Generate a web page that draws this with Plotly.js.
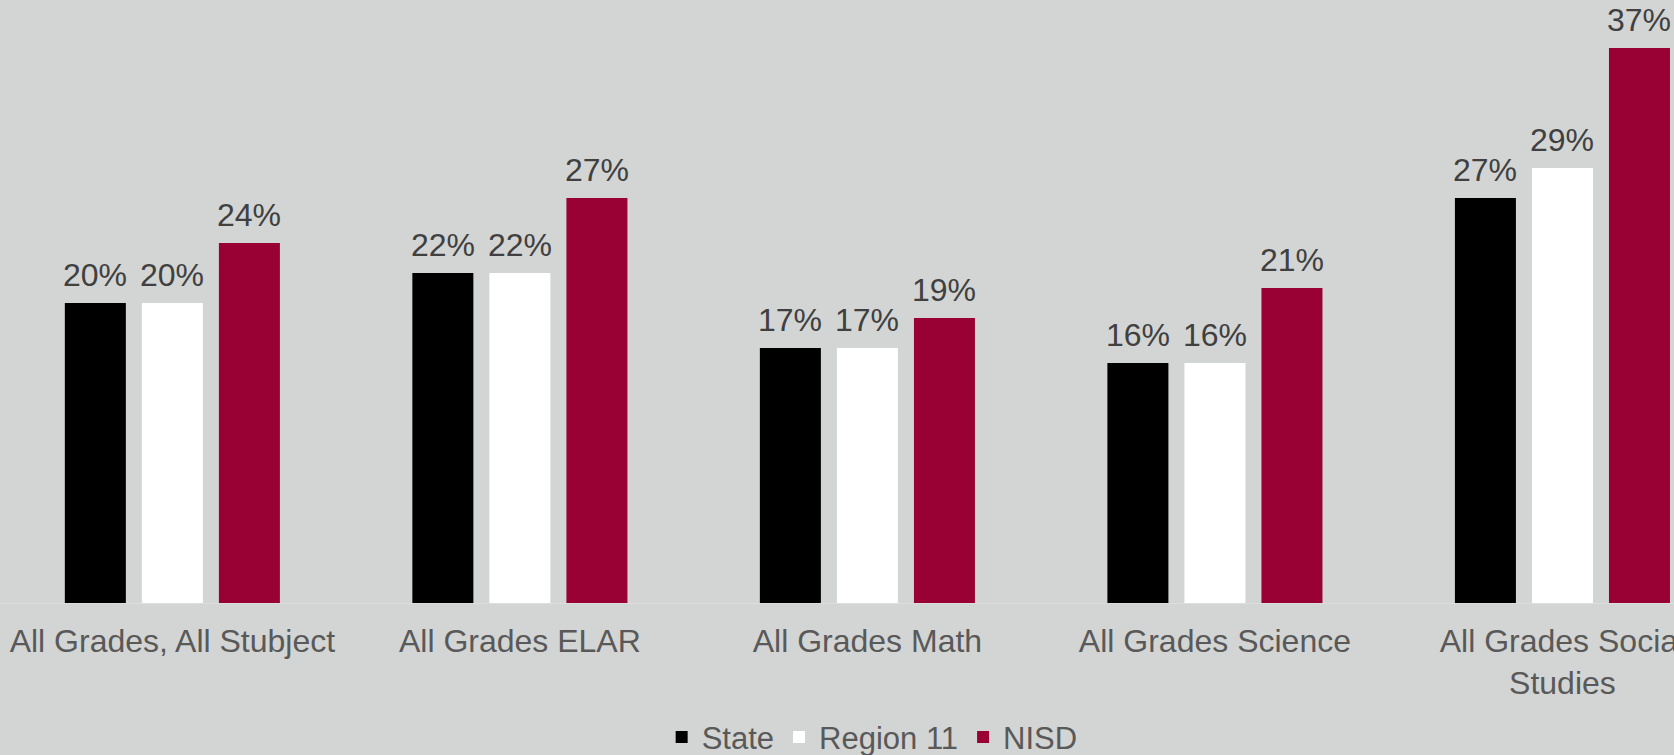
<!DOCTYPE html>
<html>
<head>
<meta charset="utf-8">
<script src="https://cdn.plot.ly/plotly-3.0.1.min.js"></script>
<style>
  html, body { margin: 0; padding: 0; background: #d3d5d4; }
  #chart { width: 1674px; height: 755px; }
</style>
</head>
<body>
<div id="chart"></div>
<script>
const categories = [
  "All Grades, All Stubject",
  "All Grades ELAR",
  "All Grades Math",
  "All Grades Science",
  "All Grades Social<br>Studies"
];
const seriesNames = ["State", "Region 11", "NISD"];
const stateValues = [20, 22, 17, 16, 27];
const region11Values = [20, 22, 17, 16, 29];
const nisdValues = [24, 27, 19, 21, 37];
const seriesColors = ["#000000", "#ffffff", "#990033"];

const FONT = "Liberation Sans, Arial, sans-serif";
const valueSets = [stateValues, region11Values, nisdValues];

const traces = valueSets.map((vals, i) => ({
  type: "bar",
  name: seriesNames[i],
  x: categories,
  y: vals,
  marker: { color: seriesColors[i], line: { width: 0 } },
  hoverinfo: "skip"
}));

// value labels above each bar, positioned through the axes (offset per series slot)
const slotPx = 77;
const annotations = [];
valueSets.forEach((vals, i) => {
  vals.forEach((v, j) => {
    annotations.push({
      x: categories[j],
      y: v,
      xref: "x",
      yref: "y",
      text: v + "%",
      showarrow: false,
      xanchor: "center",
      yanchor: "bottom",
      xshift: (i - 1) * slotPx,
      yshift: 8,
      font: { family: FONT, size: 32, color: "#404040" }
    });
  });
});

const layout = {
  width: 1674,
  height: 755,
  paper_bgcolor: "#d3d5d4",
  plot_bgcolor: "#d3d5d4",
  margin: { l: 0, r: 0, t: 3, b: 152, pad: 0, autoexpand: false },
  barmode: "group",
  bargap: 0.335,
  bargroupgap: 0.208,
  font: { family: FONT, color: "#595959" },
  annotations: annotations,
  xaxis: {
    type: "category",
    range: [-0.496, 4.321],
    showgrid: false,
    zeroline: false,
    showline: true,
    linecolor: "#dcdedd",
    linewidth: 1,
    ticks: "",
    ticklabelstandoff: 10,
    tickfont: { size: 32, color: "#595959" },
    automargin: false,
    fixedrange: true
  },
  yaxis: {
    range: [0, 40],
    showgrid: false,
    zeroline: false,
    showline: false,
    showticklabels: false,
    ticks: "",
    automargin: false,
    fixedrange: true
  },
  showlegend: true,
  legend: {
    orientation: "h",
    x: 0.521,
    xanchor: "center",
    y: -0.224,
    yanchor: "middle",
    font: { size: 31, color: "#595959" },
    bgcolor: "rgba(0,0,0,0)",
    traceorder: "normal"
  }
};

Plotly.newPlot("chart", traces, layout, { displayModeBar: false, staticPlot: true });
</script>
</body>
</html>
